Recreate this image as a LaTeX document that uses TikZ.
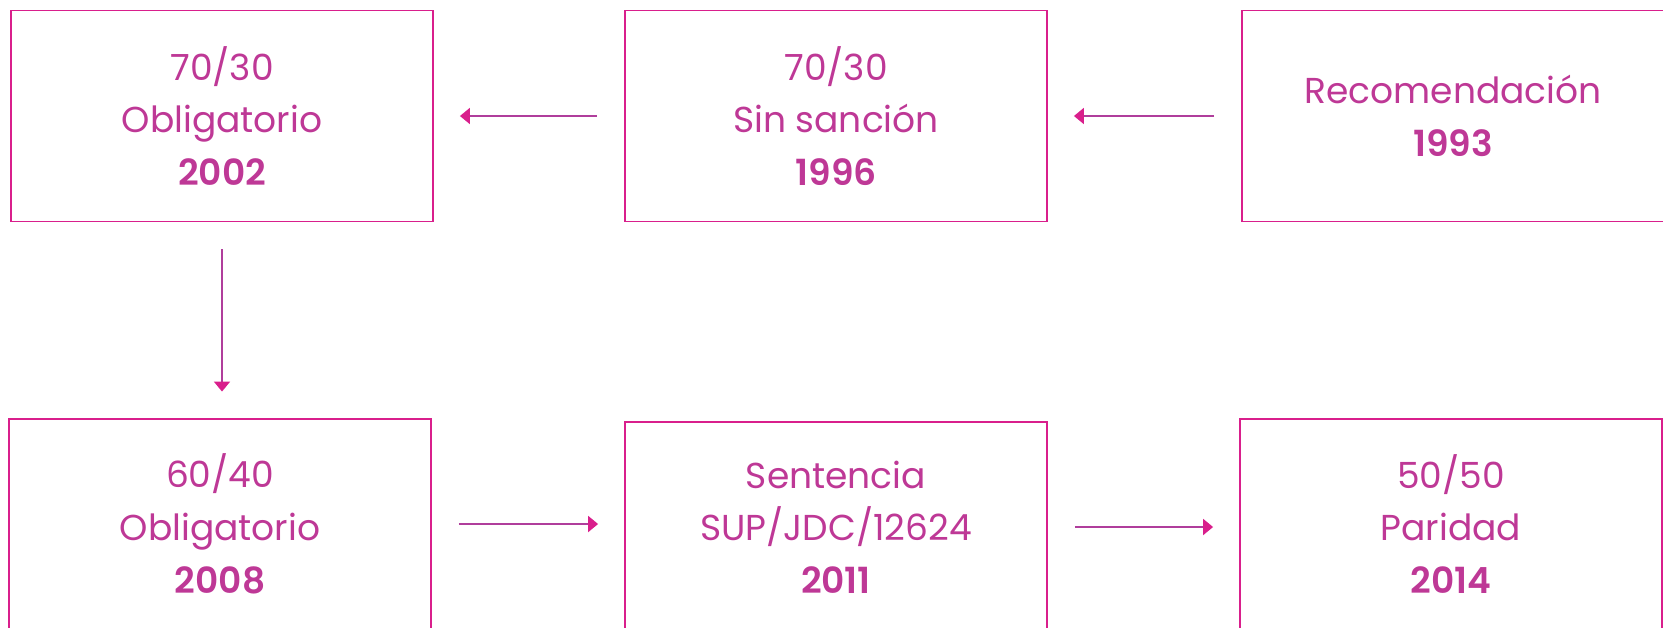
\documentclass[tikz,border=0pt]{standalone}
\usepackage{fontspec}
\setmainfont{Poppins}[BoldFont={Poppins SemiBold}]
\usetikzlibrary{arrows.meta}
\definecolor{boxpink}{HTML}{D91F8C}
\definecolor{textpink}{HTML}{BE3896}
\definecolor{linepurple}{HTML}{B03E9C}
\tikzset{
    yearbox/.style={draw=boxpink, line width=1.1pt, minimum width=8.44cm, minimum height=4.22cm,
        align=center, text=textpink, font=\fontsize{20.5}{30}\selectfont},
    flow/.style={draw=linepurple, line width=1.1pt, shorten <=0.54cm, shorten >=0.52cm,
        -{Triangle[length=0.2cm, width=0.32cm, color=boxpink]}}
}

\begin{document}
\begin{tikzpicture}[x=0.02cm, y=-0.02cm]
    \useasboundingbox (0,0) rectangle (1663,627);
    \clip (0,0) rectangle (1663,627);

    \node[yearbox] at (222, 116) (obl2002) {70/30\\Obligatorio\\{\bfseries 2002}};
    \node[yearbox] at (836, 116) (sin1996) {70/30\\Sin sanción\\{\bfseries 1996}};
    \node[yearbox] at (1453, 116) (rec1993) {Recomendación\\{\bfseries 1993}};
    \node[yearbox] at (220, 524) (obl2008) {60/40\\Obligatorio\\{\bfseries 2008}};
    \node[yearbox] at (836, 527) (sen2011) {Sentencia\\SUP/JDC/12624\\{\bfseries 2011}};
    \node[yearbox] at (1451, 524) (par2014) {50/50\\Paridad\\{\bfseries 2014}};

    \draw[flow] (rec1993.west) -- (sin1996.east |- rec1993.west);
    \draw[flow] (sin1996.west) -- (obl2002.east |- sin1996.west);
    \draw[flow] (obl2002.south) -- (obl2002.south |- obl2008.north);
    \draw[flow] (obl2008.east) -- (sen2011.west |- obl2008.east);
    \draw[flow] (sen2011.east) -- (par2014.west |- sen2011.east);
\end{tikzpicture}
\end{document}
